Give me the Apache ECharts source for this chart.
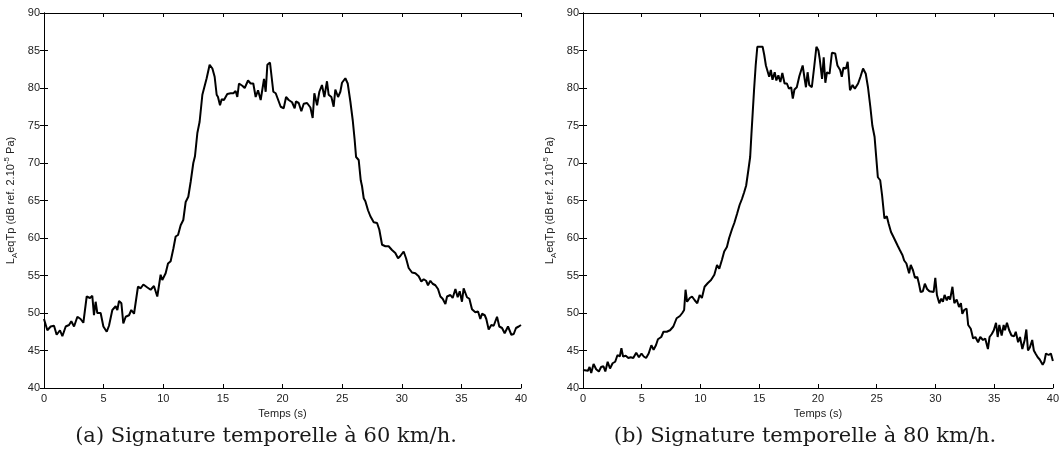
<!DOCTYPE html>
<html>
<head>
<meta charset="utf-8">
<script src="https://cdn.jsdelivr.net/npm/echarts@6/dist/echarts.min.js"></script>
<style>
  html, body { margin: 0; padding: 0; background: #fff; }
  #chart { width: 1062px; height: 464px; }
</style>
</head>
<body>
<div id="chart"></div>
<script>
// (a) 60 km/h : temps (s) et niveau (dB)
const timeA = [
  0.00, 0.28, 0.56, 0.84, 1.06, 1.34, 1.54, 1.82, 2.10, 2.29,
  2.52, 2.80, 3.07, 3.30, 3.58, 3.86, 4.05, 4.19, 4.33, 4.47,
  4.75, 4.98, 5.26, 5.45, 5.73, 6.01, 6.15, 6.29, 6.49, 6.65,
  6.85, 7.13, 7.32, 7.55, 7.88, 8.11, 8.33, 8.67, 8.94, 9.22,
  9.50, 9.64, 9.78, 9.92, 10.20, 10.40, 10.62, 10.85, 11.04, 11.24,
  11.46, 11.68, 11.88, 12.10, 12.30, 12.52, 12.66, 12.86, 13.05, 13.28,
  13.42, 13.64, 13.89, 14.12, 14.31, 14.48, 14.59, 14.76, 14.90, 15.09,
  15.37, 15.65, 15.88, 16.07, 16.21, 16.35, 16.63, 16.83, 17.11, 17.33,
  17.55, 17.75, 17.95, 18.17, 18.31, 18.45, 18.59, 18.73, 18.95, 19.09,
  19.23, 19.43, 19.57, 19.85, 20.10, 20.30, 20.52, 20.80, 21.02, 21.13,
  21.36, 21.58, 21.78, 22.06, 22.34, 22.53, 22.67, 22.90, 23.09, 23.31,
  23.51, 23.73, 23.87, 24.10, 24.29, 24.43, 24.66, 24.85, 24.99, 25.27,
  25.47, 25.69, 25.89, 26.05, 26.17, 26.39, 26.56, 26.67, 26.81, 26.95,
  27.17, 27.37, 27.65, 27.93, 28.12, 28.35, 28.63, 28.90, 29.18, 29.46,
  29.69, 29.88, 30.16, 30.36, 30.58, 30.86, 31.14, 31.42, 31.64, 31.84,
  32.04, 32.20, 32.40, 32.59, 32.82, 33.04, 33.24, 33.43, 33.66, 33.80,
  34.08, 34.27, 34.50, 34.69, 34.86, 35.05, 35.19, 35.47, 35.67, 35.89,
  36.17, 36.40, 36.59, 36.73, 36.96, 37.09, 37.29, 37.51, 37.71, 37.99,
  38.18, 38.41, 38.63, 38.91, 39.19, 39.39, 39.58, 39.81, 40.00
];
const levelA = [
  49.2, 47.7, 48.2, 48.3, 47.1, 47.7, 46.9, 48.2, 48.4, 48.9,
  48.2, 49.5, 49.2, 48.7, 52.2, 52.0, 52.3, 49.7, 51.5, 50.0,
  50.0, 48.2, 47.5, 48.3, 50.4, 50.9, 50.4, 51.6, 51.3, 48.6,
  49.5, 49.7, 50.4, 49.9, 53.5, 53.3, 53.8, 53.4, 53.1, 53.6,
  52.2, 52.4, 55.1, 54.4, 55.3, 56.6, 56.9, 58.6, 60.2, 60.4,
  61.7, 62.4, 64.8, 65.5, 67.5, 70.0, 70.9, 74.0, 75.5, 79.1,
  79.3, 81.3, 83.1, 82.6, 81.5, 79.1, 78.8, 77.7, 78.5, 78.4,
  79.2, 79.3, 79.3, 79.6, 78.8, 80.6, 80.3, 80.0, 81.0, 80.6,
  80.6, 78.8, 79.7, 78.4, 78.5, 81.2, 79.5, 83.1, 83.4, 83.5,
  79.5, 79.3, 79.1, 77.5, 77.3, 78.8, 78.4, 78.1, 77.3, 78.2,
  78.0, 76.9, 77.9, 78.0, 77.4, 76.0, 79.3, 77.7, 79.5, 80.4,
  78.8, 80.9, 79.1, 78.8, 77.5, 79.8, 78.8, 79.5, 80.7, 81.3,
  80.6, 78.2, 75.7, 73.1, 70.8, 70.4, 67.7, 66.9, 65.3, 64.9,
  63.7, 62.9, 62.1, 62.0, 61.1, 59.1, 58.9, 58.9, 58.4, 58.0,
  57.3, 57.6, 58.2, 57.3, 56.0, 55.4, 55.3, 54.9, 54.2, 54.5,
  54.3, 53.7, 54.3, 53.9, 53.7, 53.2, 52.2, 51.9, 51.2, 52.2,
  52.4, 52.0, 53.2, 52.1, 52.9, 51.5, 53.3, 52.1, 51.9, 50.5,
  50.1, 50.2, 49.2, 49.9, 49.7, 49.2, 47.8, 48.4, 48.3, 49.5,
  48.2, 48.0, 47.3, 48.2, 47.1, 47.2, 48.0, 48.2, 48.4
];

// (b) 80 km/h
const timeB = [
  0.00, 0.42, 0.56, 0.70, 0.90, 1.12, 1.35, 1.54, 1.74, 1.90,
  2.10, 2.30, 2.52, 2.74, 2.94, 3.13, 3.27, 3.41, 3.64, 3.86,
  4.06, 4.28, 4.53, 4.76, 4.98, 5.17, 5.37, 5.59, 5.82, 6.01,
  6.21, 6.38, 6.66, 6.85, 7.13, 7.41, 7.69, 7.97, 8.25, 8.45,
  8.61, 8.73, 8.86, 9.09, 9.28, 9.51, 9.73, 9.93, 10.12, 10.35,
  10.63, 10.90, 11.18, 11.41, 11.60, 11.83, 12.02, 12.25, 12.44, 12.69,
  12.88, 13.11, 13.33, 13.53, 13.72, 13.89, 14.09, 14.23, 14.34, 14.45,
  14.56, 14.70, 14.84, 15.06, 15.29, 15.43, 15.57, 15.71, 15.85, 15.99,
  16.13, 16.32, 16.46, 16.63, 16.80, 16.97, 17.16, 17.36, 17.53, 17.72,
  17.86, 18.00, 18.20, 18.42, 18.70, 18.84, 18.98, 19.12, 19.26, 19.48,
  19.68, 19.87, 20.04, 20.15, 20.35, 20.49, 20.63, 20.77, 20.99, 21.19,
  21.47, 21.66, 21.89, 22.03, 22.17, 22.39, 22.53, 22.73, 22.95, 23.14,
  23.42, 23.62, 23.84, 24.07, 24.26, 24.46, 24.63, 24.82, 24.96, 25.10,
  25.30, 25.46, 25.66, 25.86, 26.02, 26.22, 26.41, 26.58, 26.78, 26.97,
  27.20, 27.34, 27.53, 27.76, 27.90, 28.09, 28.26, 28.46, 28.60, 28.74,
  28.93, 29.10, 29.29, 29.49, 29.66, 29.85, 29.99, 30.13, 30.33, 30.50,
  30.64, 30.78, 30.97, 31.11, 31.25, 31.45, 31.61, 31.81, 32.01, 32.17,
  32.29, 32.45, 32.65, 32.79, 33.01, 33.21, 33.40, 33.63, 33.82, 34.05,
  34.24, 34.47, 34.61, 34.80, 34.97, 35.16, 35.30, 35.44, 35.64, 35.81,
  35.92, 36.09, 36.28, 36.48, 36.70, 36.84, 37.04, 37.20, 37.40, 37.60,
  37.74, 37.88, 38.04, 38.24, 38.38, 38.52, 38.71, 38.88, 39.13, 39.27,
  39.41, 39.64, 39.83, 40.00
];
const levelB = [
  42.4, 42.3, 42.8, 42.0, 43.2, 42.5, 42.2, 42.8, 42.9, 42.2,
  43.5, 42.6, 43.3, 43.5, 44.4, 44.2, 45.3, 44.2, 44.3, 44.0,
  44.1, 44.0, 44.7, 44.1, 44.6, 44.2, 44.0, 44.6, 45.7, 45.1,
  45.7, 46.5, 46.8, 47.5, 47.5, 47.7, 48.2, 49.3, 49.6, 50.0,
  50.4, 53.1, 51.5, 52.0, 52.2, 51.7, 51.3, 52.4, 52.0, 53.5,
  54.0, 54.4, 55.1, 56.4, 55.9, 57.1, 58.2, 58.8, 60.0, 61.2,
  62.0, 63.2, 64.4, 65.2, 66.1, 67.0, 69.2, 70.8, 73.9, 76.8,
  79.7, 83.0, 85.5, 85.5, 85.5, 84.4, 83.0, 83.2, 81.5, 82.4,
  81.1, 82.1, 81.0, 81.7, 80.8, 82.0, 80.6, 80.6, 79.9, 80.1,
  78.6, 79.8, 80.1, 81.6, 83.0, 81.5, 80.1, 82.1, 80.4, 80.1,
  82.8, 85.5, 85.0, 83.9, 81.2, 84.1, 80.7, 82.1, 81.9, 84.7,
  84.6, 83.0, 82.4, 81.5, 82.7, 82.6, 83.5, 79.7, 80.4, 79.9,
  80.6, 81.5, 82.6, 81.9, 80.1, 77.5, 75.0, 73.5, 70.8, 68.1,
  67.7, 65.7, 62.6, 62.9, 61.9, 60.8, 60.2, 60.1, 59.0, 58.4,
  57.7, 57.0, 56.6, 55.3, 56.4, 55.7, 54.7, 54.8, 53.9, 52.8,
  52.9, 53.9, 53.2, 52.9, 53.1, 52.8, 54.7, 52.4, 51.3, 51.9,
  51.5, 52.4, 51.7, 52.2, 51.8, 53.5, 51.3, 51.8, 50.8, 51.3,
  49.9, 50.4, 50.6, 48.4, 47.9, 46.6, 46.8, 46.1, 46.8, 46.4,
  46.6, 45.2, 46.8, 47.2, 47.7, 48.7, 46.8, 48.4, 47.0, 48.4,
  47.7, 48.7, 47.7, 47.0, 46.9, 47.5, 46.1, 46.8, 45.2, 46.4,
  47.8, 45.0, 45.4, 46.4, 45.0, 44.6, 44.1, 43.8, 43.1, 43.5,
  44.6, 44.4, 44.6, 43.6
];

const captions = ['(a) Signature temporelle à 60 km/h.', '(b) Signature temporelle à 80 km/h.'];
const yName = '{n|L}{sub|A}{n|eqTp (dB ref. 2.10}{sup|-5}{n| Pa)}';
const xName = 'Temps (s)';

const FONT = 'Liberation Sans, Arial, sans-serif';

const chart = echarts.init(document.getElementById('chart'), null, { renderer: 'canvas' });

// petite aide pour les axes (style MATLAB : boîte + graduations intérieures)
const tick = { inside: true, length: 4, lineStyle: { color: '#000', width: 1 } };
const line = { lineStyle: { color: '#000', width: 1 } };
const label = { fontSize: 11, color: '#222', fontFamily: FONT };

function xAxes(g) {
  return [
    {
      type: 'value', gridIndex: g, min: 0, max: 40, interval: 5, position: 'bottom',
      name: xName, nameLocation: 'middle', nameGap: 18,
      nameTextStyle: { fontSize: 11, color: '#222', fontFamily: FONT },
      axisLine: line, axisTick: tick,
      axisLabel: Object.assign({ margin: 5 }, label),
      splitLine: { show: false }
    },
    {
      type: 'value', gridIndex: g, min: 0, max: 40, interval: 5, position: 'top',
      axisLine: line, axisTick: tick, axisLabel: { show: false }, splitLine: { show: false }
    }
  ];
}

function yAxes(g) {
  return [
    {
      type: 'value', gridIndex: g, min: 40, max: 90, interval: 5, position: 'left',
      name: yName, nameLocation: 'middle', nameRotate: 90, nameGap: 25,
      nameTextStyle: {
        fontFamily: FONT, color: '#222',
        rich: {
          n: { fontSize: 11, lineHeight: 16, fontFamily: FONT, color: '#222' },
          sub: { fontSize: 8, verticalAlign: 'bottom', fontFamily: FONT, color: '#222' },
          sup: { fontSize: 8, verticalAlign: 'top', fontFamily: FONT, color: '#222' }
        }
      },
      axisLine: line, axisTick: tick,
      axisLabel: Object.assign({ margin: 4 }, label),
      splitLine: { show: false }
    },
    {
      type: 'value', gridIndex: g, min: 40, max: 90, interval: 5, position: 'right',
      axisLine: line, axisTick: tick, axisLabel: { show: false }, splitLine: { show: false }
    }
  ];
}

const pairs = (ts, vs) => ts.map((t, i) => [t, vs[i]]);

const captionStyle = {
  x: 0, y: 0, textAlign: 'center', textVerticalAlign: 'middle',
  font: '21px "DejaVu Serif", serif', fill: '#1a1a1a'
};

const option = {
  animation: false,
  backgroundColor: '#fff',
  grid: [
    { left: 44, top: 13, width: 477, height: 375 },
    { left: 583, top: 13, width: 477, height: 375 }
  ],
  xAxis: [...xAxes(0), ...xAxes(1)],
  yAxis: [...yAxes(0), ...yAxes(1)],
  series: [
    {
      type: 'line', xAxisIndex: 0, yAxisIndex: 0, data: pairs(timeA, levelA),
      showSymbol: false, lineStyle: { color: '#000', width: 2 }
    },
    {
      type: 'line', xAxisIndex: 2, yAxisIndex: 2, data: pairs(timeB, levelB),
      showSymbol: false, lineStyle: { color: '#000', width: 2 }
    }
  ],
  graphic: [
    { type: 'text', x: 266, y: 437, style: Object.assign({ text: captions[0] }, captionStyle) },
    { type: 'text', x: 805, y: 437, style: Object.assign({ text: captions[1] }, captionStyle) }
  ]
};

chart.setOption(option);
window.addEventListener('resize', () => chart.resize());
</script>
</body>
</html>
